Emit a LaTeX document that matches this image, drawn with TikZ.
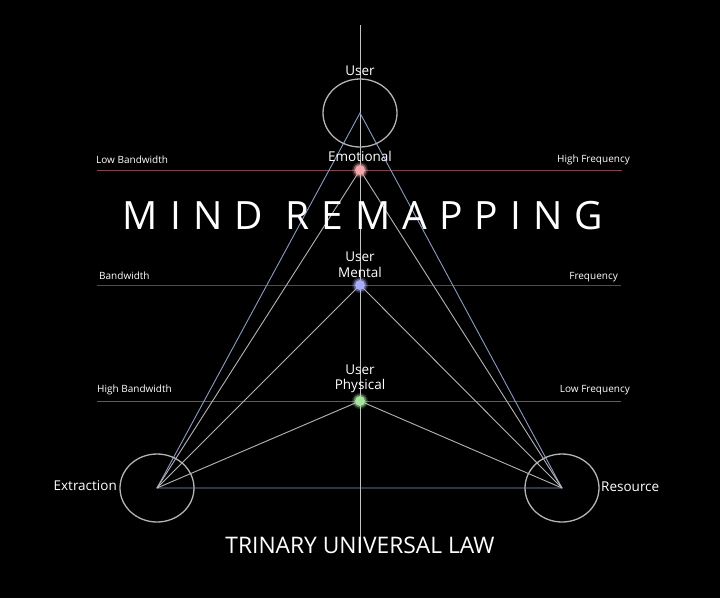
\documentclass[tikz,border=0pt]{standalone}
\usepackage{fontspec}
\setmainfont{Open Sans}
\definecolor{emored}{HTML}{7E4452}
\definecolor{menblue}{HTML}{464684}
\definecolor{phygreen}{HTML}{466C4A}
\definecolor{edgeblue}{HTML}{8A9AC4}
\definecolor{edgegrey}{HTML}{B4B4B8}
\definecolor{dotpink}{HTML}{F4A8AC}
\definecolor{dotblue}{HTML}{A8ACF4}
\definecolor{dotgreen}{HTML}{A8E4A0}
\begin{document}
\begin{tikzpicture}[x=1pt, y=-1pt,
  every node/.style={text=white, inner sep=0pt},
  small/.style={font=\fontsize{10}{12}\selectfont},
  mid/.style={font=\fontsize{13.5}{15}\selectfont},
  ring/.style={draw=edgegrey, line width=1.3pt},
  outer/.style={draw=edgeblue, line width=0.9pt},
  inner/.style={draw=edgegrey, line width=0.9pt}]
  \fill[black] (0,0) rectangle (720,598);
  \useasboundingbox (0,0) rectangle (720,598);
  % axis and levels
  \coordinate (top) at (360,25); \coordinate (bot) at (360,553);
  \draw[draw=edgegrey!80, line width=0.8pt] (top) -- (bot);
  \coordinate (emoL) at (97,170); \coordinate (emoR) at (622,170);
  \coordinate (menL) at (97,285); \coordinate (menR) at (621,285);
  \coordinate (phyL) at (97,401); \coordinate (phyR) at (621,401);
  \draw[emored, line width=0.9pt] (emoL) -- (emoR);
  \draw[menblue, line width=0.9pt] (menL) -- (menR);
  \draw[phygreen, line width=0.9pt] (phyL) -- (phyR);
  % triangle
  \coordinate (apex) at (360,113);
  \coordinate (ext) at (157,488); \coordinate (res) at (562,488);
  \coordinate (emo) at (360,170); \coordinate (men) at (360,285); \coordinate (phy) at (360,401);
  \draw[outer] (ext) -- (apex) -- (res) -- cycle;
  \foreach \p in {emo, men, phy} {
    \draw[inner] (ext) -- (\p) -- (res);
  }
  \draw[ring] (apex) ellipse (37 and 34);
  \draw[ring] (ext) ellipse (37 and 34);
  \draw[ring] (res) ellipse (37 and 34);
  % dots
  \foreach \p/\c in {emo/dotpink, men/dotblue, phy/dotgreen} {
    \fill[\c, opacity=0.2] (\p) circle (8);
    \fill[\c, opacity=0.45] (\p) circle (6.5);
    \fill[\c] (\p) circle (5);
  }
  % labels
  \node[mid, anchor=base] (user) at (360,75) {User};
  \node[mid, anchor=base] (emotional) at (360,161) {Emotional};
  \node[mid, anchor=base] (user2) at (360,261) {User};
  \node[mid, anchor=base] (mental) at (360,277) {Mental};
  \node[mid, anchor=base] (user3) at (360,374) {User};
  \node[mid, anchor=base] (physical) at (360,389) {Physical};
  \node[mid, anchor=base east] (extraction) at (117,490) {Extraction};
  \node[mid, anchor=base west] (resource) at (601,491) {Resource};
  \node[small, anchor=base west] (lowbw) at (96,163) {Low Bandwidth};
  \node[small, anchor=base east] (highfq) at (630,162) {High Frequency};
  \node[small, anchor=base west] (bw) at (99,279) {Bandwidth};
  \node[small, anchor=base east] (fq) at (618,279) {Frequency};
  \node[small, anchor=base west] (highbw) at (97,392) {High Bandwidth};
  \node[small, anchor=base east] (lowfq) at (630,392) {Low Frequency};
  \node[anchor=base, font=\fontsize{39}{44}\selectfont\addfontfeature{LetterSpace=31}] (title) at (363,229) {MIND REMAPPING};
  \node[anchor=base, font=\fontsize{22.8}{27}\selectfont] (law) at (360,553) {TRINARY UNIVERSAL LAW};
\end{tikzpicture}
\end{document}
